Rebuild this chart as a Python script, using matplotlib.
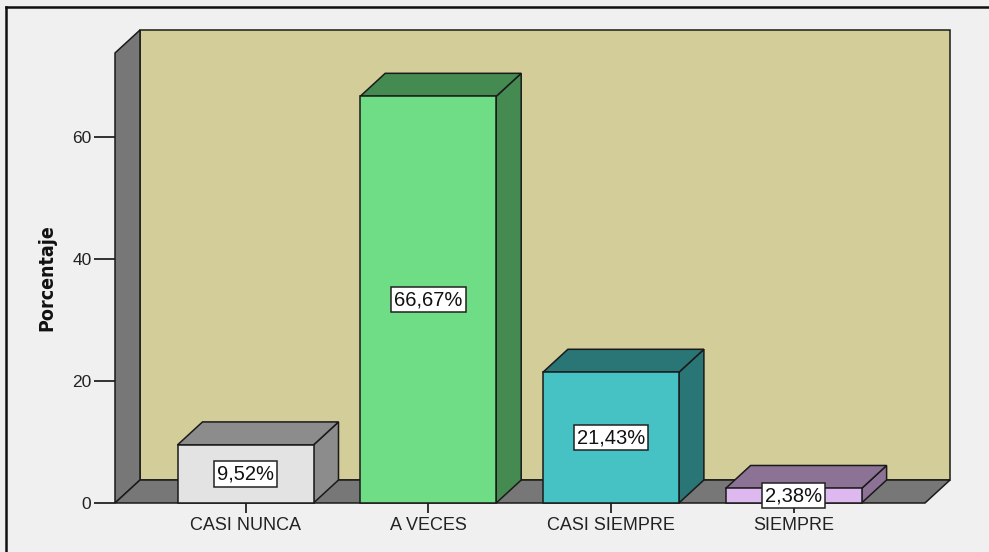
import matplotlib
matplotlib.use("Agg")
import matplotlib.pyplot as plt
from matplotlib.patches import Polygon
from matplotlib.lines import Line2D

categories = ["CASI NUNCA", "A VECES", "CASI SIEMPRE", "SIEMPRE"]
percentages = [9.52, 66.67, 21.43, 2.38]
value_labels = ["9,52%", "66,67%", "21,43%", "2,38%"]
y_ticks = [0, 20, 40, 60]

front_colors = ["#E3E3E3", "#6FDD85", "#46C2C4", "#DEB9EF"]
side_colors = ["#8C8C8C", "#458A50", "#2A7575", "#8C7396"]

W, H = 989, 552
fig = plt.figure(figsize=(W / 100, H / 100), dpi=100, facecolor="#F0F0F0")

# front plane of the 3D box in pixel coordinates
left_px, right_px, bottom_px, top_px = 115, 925, 503, 53
ax = fig.add_axes([left_px / W, 1 - bottom_px / H,
                   (right_px - left_px) / W, (bottom_px - top_px) / H])
ax.set_facecolor("none")

px_per_unit_y = 6.1
ymax = (bottom_px - top_px) / px_per_unit_y
px_per_cat = 182.7
x0 = -(245.5 - left_px) / px_per_cat
x1 = x0 + (right_px - left_px) / px_per_cat
ax.set_xlim(x0, x1)
ax.set_ylim(0, ymax)

dx = 25 / px_per_cat
dy = 23 / px_per_unit_y
bar_w = 136 / px_per_cat
edge = "#1A1A1A"
lw = 1.1

def poly(pts, fc, z):
    ax.add_patch(Polygon(pts, closed=True, facecolor=fc, edgecolor=edge,
                         linewidth=lw, clip_on=False, zorder=z, joinstyle="miter"))

# back wall, left wall, floor
poly([(x0 + dx, dy), (x1 + dx, dy), (x1 + dx, ymax + dy), (x0 + dx, ymax + dy)], "#D3CE99", 1)
poly([(x0, 0), (x0 + dx, dy), (x0 + dx, ymax + dy), (x0, ymax)], "#777777", 2)
poly([(x0, 0), (x1, 0), (x1 + dx, dy), (x0 + dx, dy)], "#777777", 2)

# bars: side, top, then front face with a boxed value label
for i, (v, fc, sc, lab) in enumerate(zip(percentages, front_colors, side_colors, value_labels)):
    l, r = i - bar_w / 2, i + bar_w / 2
    poly([(r, 0), (r + dx, dy), (r + dx, v + dy), (r, v)], sc, 3)
    poly([(l, v), (r, v), (r + dx, v + dy), (l + dx, v + dy)], sc, 3)
    poly([(l, 0), (r, 0), (r, v), (l, v)], fc, 4)
    ax.text(i, v / 2, lab, ha="center", va="center", fontsize=14.5,
            family="Liberation Sans", color="#111111", zorder=6,
            bbox=dict(boxstyle="square,pad=0.16", facecolor="white",
                      edgecolor="#222222", linewidth=1.1))

for s in ax.spines.values():
    s.set_visible(False)

ax.set_xticks(range(len(categories)))
ax.set_xticklabels(categories, fontsize=13, family="Liberation Sans", color="#222222")
ax.tick_params(axis="x", length=7, width=1.3, color="#222222", pad=3)
ax.set_yticks(y_ticks)
ax.set_yticklabels([str(t) for t in y_ticks], fontsize=12.5, family="Liberation Sans", color="#222222")
ax.tick_params(axis="y", length=15, width=1.3, color="#222222", pad=2)

ax.set_ylabel("Porcentaje", fontsize=14, fontweight="bold", fontstretch="condensed",
              family=["Liberation Sans Narrow", "DejaVu Sans"], color="#111111")
ax.yaxis.set_label_coords((56 - left_px) / (right_px - left_px), 0.5)

# outer frame (left and top edges)
fig.add_artist(Line2D([6 / W, 6 / W], [0, 1 - 7 / H], transform=fig.transFigure,
                      color="#111111", linewidth=1.8))
fig.add_artist(Line2D([6 / W, 1], [1 - 7 / H, 1 - 7 / H], transform=fig.transFigure,
                      color="#111111", linewidth=1.8))

fig.savefig("out.png", dpi=100, facecolor=fig.get_facecolor())
